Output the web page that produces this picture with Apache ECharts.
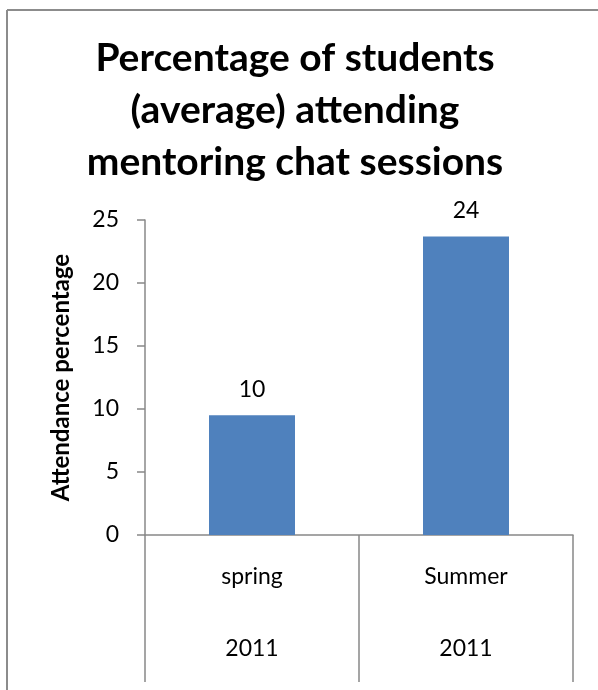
<!DOCTYPE html>
<html>
<head>
<meta charset="utf-8">
<title>Attendance</title>
<script src="https://cdn.jsdelivr.net/npm/echarts@6/dist/echarts.min.js"></script>
<style>
    html, body { margin: 0; padding: 0; background: #fff; }
    #chart { width: 598px; height: 690px; }
</style>
</head>
<body>
<div id="chart"></div>
<script>
// data
const seasons = ['spring', 'Summer']
const years = ['2011', '2011']
const attendance = [9.5, 23.7]
const yTicks = { min: 0, max: 25, step: 5 }

const chart = echarts.init(document.getElementById('chart'))
const font = 'Lato, "Open Sans", sans-serif'

chart.setOption({
    animation: false,
    title: {
        text: 'Percentage of students\n(average) attending\nmentoring chat sessions',
        left: 290,
        top: 27,
        textAlign: 'center',
        textStyle: {
            fontFamily: font,
            fontSize: 39,
            fontWeight: 'bold',
            lineHeight: 52,
            color: '#000'
        }
    },
    // grey frame around the chart area (left and top edges visible)
    graphic: [
        { type: 'line', shape: { x1: 7, y1: 10, x2: 7, y2: 690 }, style: { stroke: '#8c8c8c', lineWidth: 2 } },
        { type: 'line', shape: { x1: 7, y1: 10, x2: 598, y2: 10 }, style: { stroke: '#8c8c8c', lineWidth: 2 } }
    ],
    grid: { left: 145, top: 220, right: 25, bottom: 155 },
    xAxis: [
        {
            type: 'category',
            data: seasons,
            axisLine: { show: true, lineStyle: { color: '#888', width: 1.5 } },
            // long ticks act as the category separators under the axis
            axisTick: { show: true, interval: 0, inside: false, length: 147, lineStyle: { color: '#888', width: 1.5 } },
            axisLabel: { margin: 30, fontFamily: font, fontSize: 23, color: '#000' }
        },
        {
            type: 'category',
            data: years,
            position: 'bottom',
            axisLine: { show: false },
            axisTick: { show: false },
            axisLabel: { margin: 102, fontFamily: font, fontSize: 23, color: '#000' }
        }
    ],
    yAxis: {
        type: 'value',
        min: yTicks.min,
        max: yTicks.max,
        interval: yTicks.step,
        name: 'Attendance percentage',
        nameLocation: 'middle',
        nameGap: 72,
        nameTextStyle: { fontFamily: font, fontSize: 24, fontWeight: 'bold', color: '#000' },
        axisLine: { show: true, lineStyle: { color: '#888', width: 1.5 } },
        axisTick: { show: true, length: 8, lineStyle: { color: '#888', width: 1.5 } },
        splitLine: { show: false },
        axisLabel: { margin: 26, fontFamily: font, fontSize: 23, color: '#000' }
    },
    series: [{
        type: 'bar',
        data: attendance,
        barWidth: 86,
        itemStyle: { color: '#4f81bd' },
        label: {
            show: true,
            position: 'top',
            distance: 14,
            fontFamily: font,
            fontSize: 23,
            color: '#000',
            formatter: p => Math.round(p.value)
        }
    }]
})
</script>
</body>
</html>
